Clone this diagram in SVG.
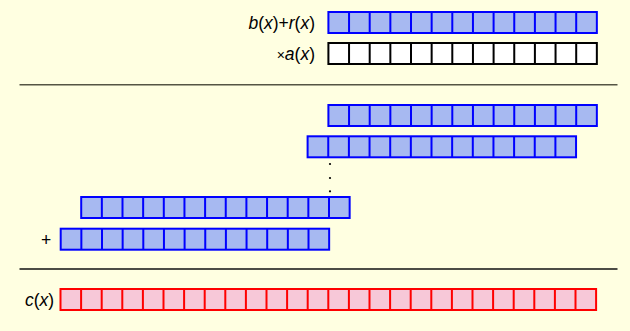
<svg xmlns="http://www.w3.org/2000/svg" xmlns:xlink="http://www.w3.org/1999/xlink" width="630" height="331" viewBox="0 0 630 331">
<style>
.lbl{font-family:"Liberation Sans",Arial,sans-serif;font-size:17.5px;fill:#000}
.it{font-style:italic}
.blue{fill:#a7b9f1;stroke:#0000ff;stroke-width:2}
.black{fill:#ffffff;stroke:#000000;stroke-width:2}
.red{fill:url(#pink);stroke:#ff0000;stroke-width:2}
.rule1{stroke:#555544;stroke-width:1.5}
.rule2{stroke:#111111;stroke-width:1.5}
</style>
<defs>
<pattern id="pink" width="2" height="2" patternUnits="userSpaceOnUse">
<rect width="2" height="2" fill="#fce6ee"/>
<rect width="1" height="1" fill="#f2aac2"/>
<rect x="1" y="1" width="1" height="1" fill="#f2aac2"/>
</pattern>
<g id="row13">
<rect x="0" y="0" width="268.45" height="21"/>
<path fill="none" d="M20.65 0v21M41.3 0v21M61.95 0v21M82.6 0v21M103.25 0v21M123.9 0v21M144.55 0v21M165.2 0v21M185.85 0v21M206.5 0v21M227.15 0v21M247.8 0v21"/>
</g>
<g id="row26">
<rect x="0" y="0" width="535.6" height="21"/>
<path fill="none" d="M20.6 0v21M41.2 0v21M61.8 0v21M82.4 0v21M103 0v21M123.6 0v21M144.2 0v21M164.8 0v21M185.4 0v21M206 0v21M226.6 0v21M247.2 0v21M267.8 0v21M288.4 0v21M309 0v21M329.6 0v21M350.2 0v21M370.8 0v21M391.4 0v21M412 0v21M432.6 0v21M453.2 0v21M473.8 0v21M494.4 0v21M515 0v21"/>
</g>
</defs>
<rect x="0" y="0" width="630" height="331" fill="#ffffe1"/>

<g id="b_plus_r">
<text class="lbl" x="315" y="28.5" text-anchor="end"><tspan class="it">b</tspan>(<tspan class="it">x</tspan>)+<tspan class="it">r</tspan>(<tspan class="it">x</tspan>)</text>
<use xlink:href="#row13" x="328.4" y="12" class="blue"/>
</g>
<g id="a">
<text class="lbl" x="315" y="59.5" text-anchor="end"><tspan font-size="14">×</tspan><tspan class="it">a</tspan>(<tspan class="it">x</tspan>)</text>
<use xlink:href="#row13" x="328.4" y="43" class="black"/>
</g>

<line class="rule1" x1="19.5" y1="84.7" x2="617.5" y2="84.7"/>

<g id="partial1"><use xlink:href="#row13" x="328.4" y="105" class="blue"/></g>
<g id="partial2"><use xlink:href="#row13" x="307.6" y="136.3" class="blue"/></g>
<g id="dots">
<circle cx="330" cy="164" r="1.1" fill="#000"/>
<circle cx="330" cy="178" r="1.1" fill="#000"/>
<circle cx="330" cy="191.3" r="1.1" fill="#000"/>
</g>
<g id="partial3"><use xlink:href="#row13" x="81.2" y="197" class="blue"/></g>
<g id="partial4">
<text class="lbl" x="46" y="246" text-anchor="middle">+</text>
<use xlink:href="#row13" x="60.7" y="228.7" class="blue"/>
</g>

<line class="rule2" x1="19.5" y1="269" x2="617.5" y2="269"/>

<g id="c">
<text class="lbl" x="25" y="305.5"><tspan class="it">c</tspan>(<tspan class="it">x</tspan>)</text>
<use xlink:href="#row26" x="60.5" y="289" class="red"/>
</g>
</svg>
